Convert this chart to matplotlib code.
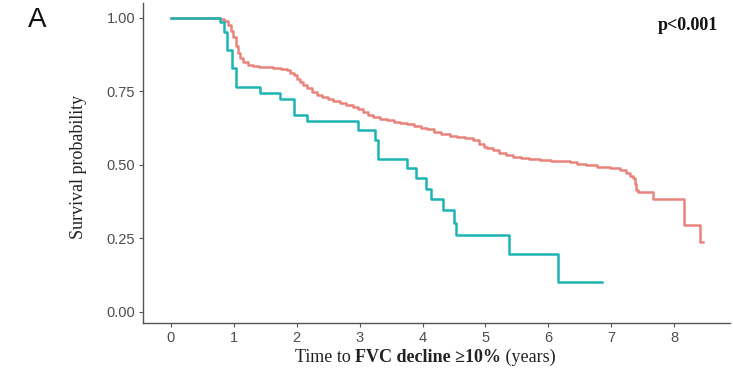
import matplotlib
matplotlib.use("Agg")
import matplotlib.pyplot as plt

# ---- data ----
red_t = [0, 0.78, 0.85, 0.90, 0.95, 0.99, 1.03, 1.07, 1.10, 1.15, 1.22, 1.30, 1.40, 1.50,
         1.63, 1.75, 1.84, 1.90, 1.95, 2.00, 2.05, 2.10, 2.17, 2.25, 2.32, 2.40, 2.50,
         2.58, 2.68, 2.78, 2.90, 2.98, 3.06, 3.14, 3.22, 3.32, 3.44, 3.55, 3.64, 3.75,
         3.86, 3.97, 4.07, 4.18, 4.30, 4.44, 4.55, 4.68, 4.81, 4.90, 4.97, 5.02, 5.12,
         5.22, 5.33, 5.44, 5.56, 5.70, 5.87, 6.05, 6.20, 6.34, 6.45, 6.60, 6.77, 6.98,
         7.14, 7.24, 7.30, 7.35, 7.38, 7.40, 7.43, 7.67, 8.16, 8.41, 8.46]
red_s = [1.0, 0.995, 0.99, 0.975, 0.955, 0.935, 0.905, 0.88, 0.862, 0.848, 0.840, 0.837,
         0.834, 0.831, 0.829, 0.826, 0.822, 0.813, 0.804, 0.792, 0.782, 0.772, 0.760,
         0.748, 0.737, 0.730, 0.722, 0.717, 0.711, 0.704, 0.696, 0.688, 0.678, 0.670,
         0.662, 0.657, 0.652, 0.647, 0.643, 0.637, 0.631, 0.625, 0.620, 0.613, 0.606,
         0.598, 0.594, 0.590, 0.585, 0.572, 0.562, 0.557, 0.549, 0.541, 0.533, 0.528,
         0.523, 0.520, 0.517, 0.514, 0.512, 0.511, 0.503, 0.498, 0.494, 0.489, 0.483,
         0.472, 0.463, 0.455, 0.435, 0.415, 0.406, 0.383, 0.296, 0.236, 0.236]

teal_t = [0, 0.78, 0.84, 0.89, 0.97, 1.03, 1.42, 1.73, 1.96, 2.16, 2.98, 3.24, 3.29,
          3.75, 3.90, 4.06, 4.14, 4.32, 4.50, 4.54, 5.38, 6.15, 6.85]
teal_s = [1.0, 0.985, 0.95, 0.89, 0.83, 0.765, 0.745, 0.725, 0.67, 0.648, 0.617, 0.585,
          0.52, 0.489, 0.455, 0.417, 0.384, 0.347, 0.303, 0.262, 0.197, 0.101, 0.101]

x_ticks = [0, 1, 2, 3, 4, 5, 6, 7, 8]
y_ticks = [0.00, 0.25, 0.50, 0.75, 1.00]
y_tick_labels = ["0.00", "0.25", "0.50", "0.75", "1.00"]

red_color = "#E8847C"
teal_color = "#1DB4B4"
serif = "Liberation Serif"
sans = "Liberation Sans"

fig = plt.figure(figsize=(7.33, 3.77), dpi=100)
ax = fig.add_axes([143 / 733, 1 - 323.3 / 377, (730 - 143) / 733, (323.3 - 3) / 377])

ax.plot(red_t, red_s, drawstyle="steps-post", color=red_color, lw=1.8)
ax.plot(teal_t, teal_s, drawstyle="steps-post", color=teal_color, lw=1.8)

ax.set_xlim(-0.445, 8.89)
ax.set_ylim(-0.039, 1.05)
ax.set_xticks(x_ticks)
ax.set_yticks(y_ticks)
ax.set_yticklabels(y_tick_labels)
for s in ["top", "right"]:
    ax.spines[s].set_visible(False)
for s in ["left", "bottom"]:
    ax.spines[s].set_color("#555555")
    ax.spines[s].set_linewidth(1.0)
ax.tick_params(axis="both", colors="#555555", labelcolor="#4D4D4D", labelsize=10.5,
               length=3, width=0.8, pad=2.5)
for lab in ax.get_xticklabels() + ax.get_yticklabels():
    lab.set_family(sans)

ax.set_ylabel("Survival probability", family=serif, fontsize=13, color="#222222")
ax.yaxis.set_label_coords((87 - 143) / 587, (323.3 - 167) / 320.3)

# x label composed of normal + bold + normal pieces
fig.canvas.draw()
renderer = fig.canvas.get_renderer()
pieces = [("Time to ", "normal"), ("FVC decline ≥10%", "bold"), (" (years)", "normal")]
texts = []
widths = []
for s, w in pieces:
    t = fig.text(0, 0, s, family=serif, fontsize=13, weight=w, color="#222222",
                 ha="left", va="center")
    texts.append(t)
    widths.append(t.get_window_extent(renderer).width)
total = sum(widths)
cx = 425
x0 = cx - total / 2
for t, wd in zip(texts, widths):
    t.set_position((x0 / 733, 1 - 357 / 377))
    x0 += wd

fig.text(688 / 733, 1 - 25 / 377, "p<0.001", family=serif, weight="bold", fontsize=13,
         ha="center", va="center", color="#111111")
fig.text(37 / 733, 1 - 20 / 377, "A", family=sans, fontsize=20, ha="center",
         va="center", color="#111111")

fig.savefig("out.png", dpi=100)
